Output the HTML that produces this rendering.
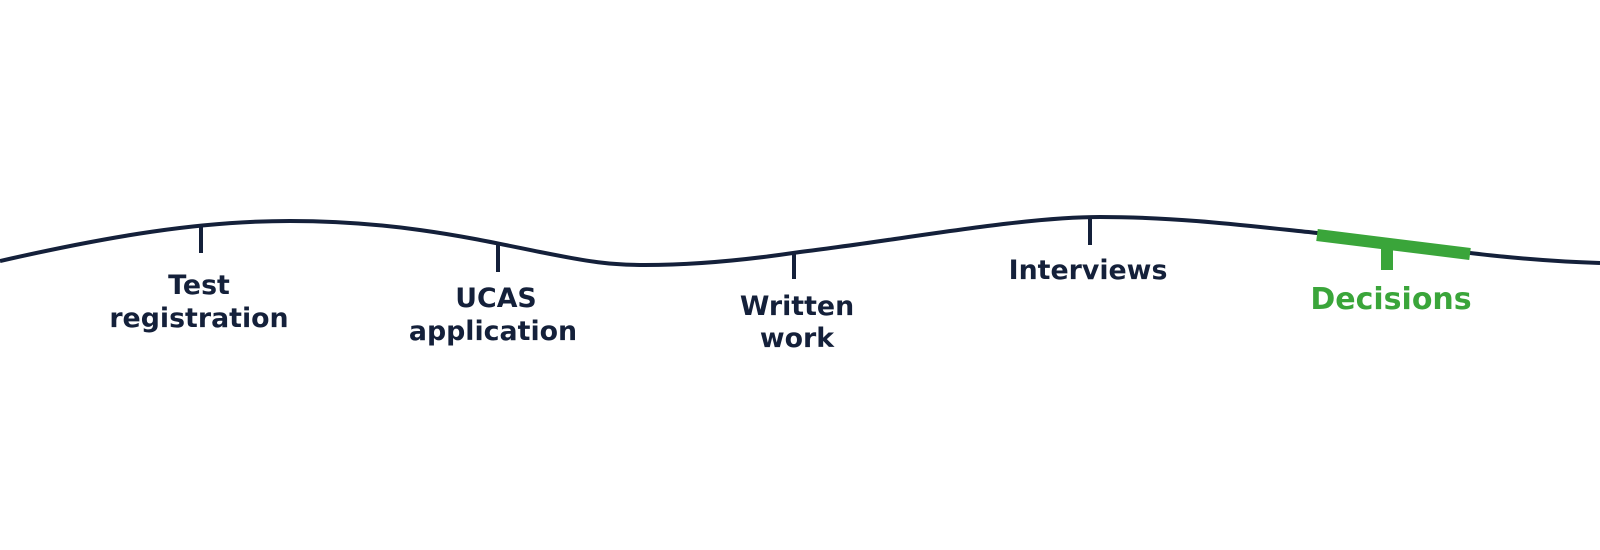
<!DOCTYPE html>
<html><head><style>
body{margin:0;background:#fff;width:1600px;height:550px;overflow:hidden}
svg{display:block}
text{font-family:"DejaVu Sans","Liberation Sans",sans-serif;font-size:26.8px;fill:#14203a;text-anchor:middle;font-weight:bold}
</style></head><body>
<svg width="1600" height="550" viewBox="0 0 1600 550">
<path d="M0,261 C110,236 200,221 290,221 C400,221 480,240 540,252 C590,262 610,265 645,265 C700,265 760,258 800,252 C900,240 1020,217 1100,217 C1180,217 1250,226 1317,233 C1420,246 1500,260 1600,263" fill="none" stroke="#14203a" stroke-width="4"/>
<g stroke="#14203a" stroke-width="4">
<line x1="201" y1="226" x2="201" y2="253"/>
<line x1="498" y1="244" x2="498" y2="272"/>
<line x1="794" y1="252" x2="794" y2="279"/>
<line x1="1090" y1="217" x2="1090" y2="245"/>
</g>
<line x1="1317" y1="235" x2="1470" y2="254" stroke="#3aa53a" stroke-width="12"/>
<line x1="1387" y1="244" x2="1387" y2="270" stroke="#3aa53a" stroke-width="12"/>
<text x="199" y="294">Test</text>
<text x="199" y="327">registration</text>
<text x="496" y="307">UCAS</text>
<text x="493" y="340">application</text>
<text x="797" y="315">Written</text>
<text x="797" y="347">work</text>
<text x="1088" y="279">Interviews</text>
<text x="1391" y="309" style="fill:#3aa53a;font-size:30px">Decisions</text>
</svg>
</body></html>
